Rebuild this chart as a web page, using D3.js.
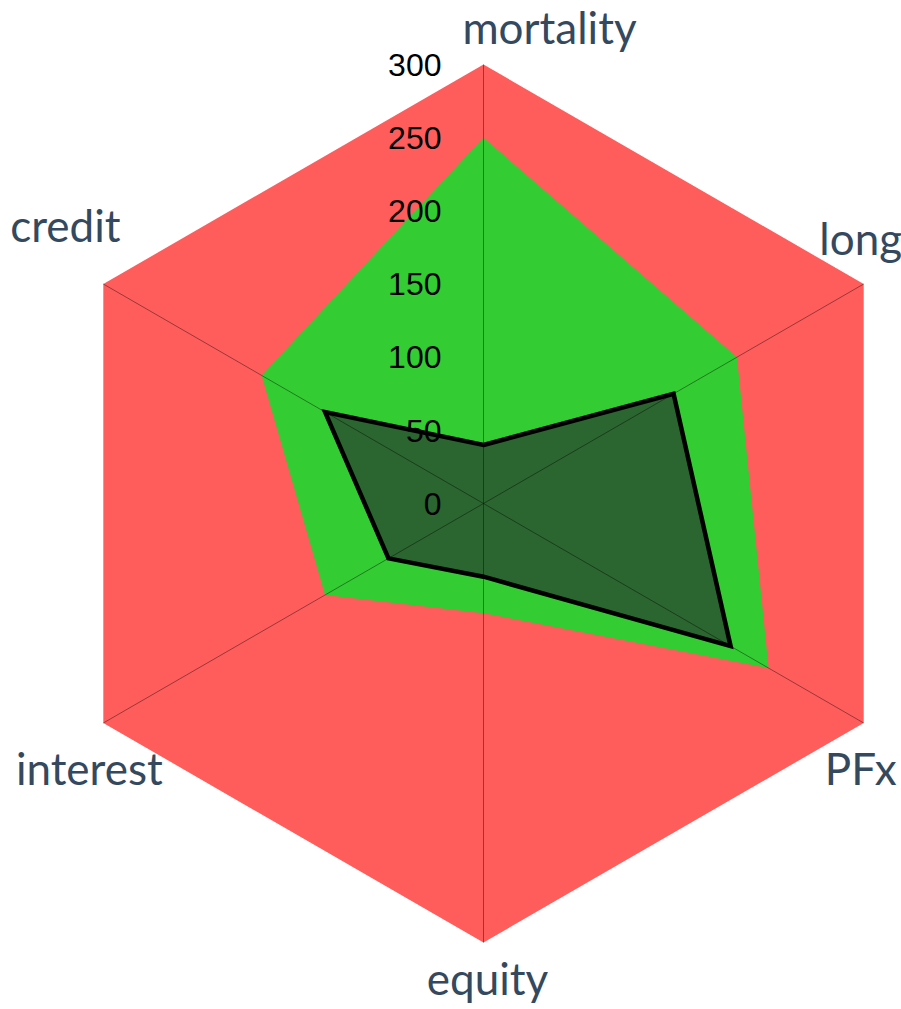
<!DOCTYPE html>
<html>
<head>
<meta charset="utf-8">
<script src="https://cdn.jsdelivr.net/npm/d3@7"></script>
<style>
  html, body { margin: 0; padding: 0; background: #fff; }
  svg { display: block; }
</style>
</head>
<body>
<svg id="chart" width="901" height="1009"></svg>
<script>
const axes = ["mortality", "long", "PFx", "equity", "interest", "credit"];
const limitValues = [300, 300, 300, 300, 300, 300];
const greenValues = [250, 200, 225, 75, 125, 175];
const darkValues  = [40, 150, 195, 50, 75, 125];
const tickValues = [0, 50, 100, 150, 200, 250, 300];

const W = 901, H = 1009;
const cx = 483.5, cy = 503.5, R = 439;
const svg = d3.select("#chart");
const g = svg.append("g").attr("transform", `translate(${cx},${cy})`);

const r = d3.scaleLinear().domain([0, 300]).range([0, R]);
const angle = d3.scalePoint().domain(axes).range([0, 2 * Math.PI * (axes.length - 1) / axes.length]);

const radial = d3.lineRadial()
  .angle((d, i) => angle(axes[i]))
  .radius(d => r(d))
  .curve(d3.curveLinearClosed);

// background (limit) polygon
g.append("path").datum(limitValues)
  .attr("d", radial)
  .attr("fill", "#ff5c5c");

// green series
g.append("path").datum(greenValues)
  .attr("d", radial)
  .attr("fill", "#33cc33");

// dark series
g.append("path").datum(darkValues)
  .attr("d", radial)
  .attr("fill", "#2b652f")
  .attr("stroke", "#000")
  .attr("stroke-width", 4.5)
  .attr("stroke-linejoin", "miter");

// spokes
axes.forEach(a => {
  const t = angle(a) - Math.PI / 2;
  g.append("line")
    .attr("x1", 0).attr("y1", 0)
    .attr("x2", Math.cos(t) * r(300)).attr("y2", Math.sin(t) * r(300))
    .attr("stroke", "rgba(0,0,0,0.4)")
    .attr("stroke-width", 1);
});

// tick labels
g.selectAll("text.tick").data(tickValues).enter().append("text")
  .attr("class", "tick")
  .attr("x", -42)
  .attr("y", d => -r(d))
  .attr("dy", "0.35em")
  .attr("text-anchor", "end")
  .attr("font-family", "Liberation Sans, Arial, sans-serif")
  .attr("font-size", 32)
  .attr("fill", "#000")
  .text(d => d);

// axis labels
const labelOffsets = [[66, -21], [-3, -29], [-3, 62], [4, 52.5], [-14, 62], [-38, -42]];
axes.forEach((a, i) => {
  const t = angle(a) - Math.PI / 2;
  const x = Math.cos(t) * r(300) + labelOffsets[i][0];
  const y = Math.sin(t) * r(300) + labelOffsets[i][1];
  g.append("text")
    .attr("x", x).attr("y", y)
    .attr("text-anchor", "middle")
    .attr("font-family", "Lato, sans-serif")
    .attr("font-size", 44)
    .attr("fill", "#34495e")
    .text(a);
});
</script>
</body>
</html>
